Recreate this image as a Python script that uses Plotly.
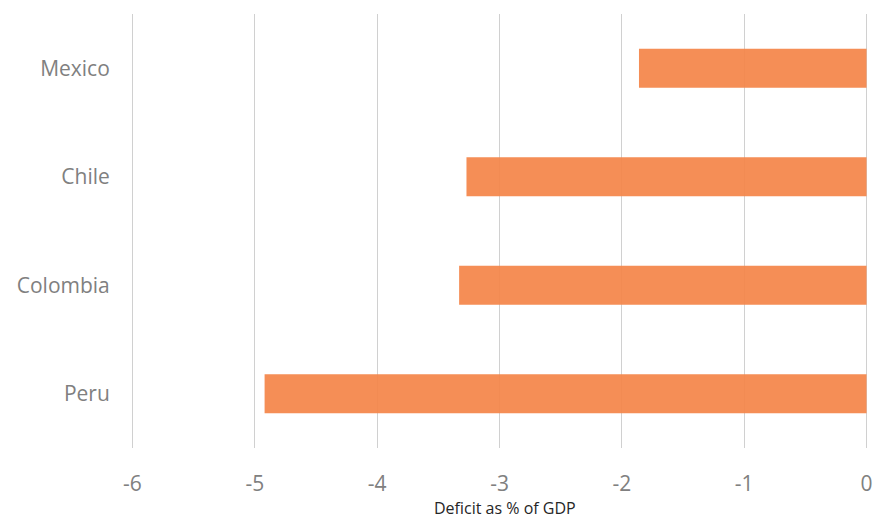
import plotly.graph_objects as go

countries = ["Peru", "Colombia", "Chile", "Mexico"]
deficits = [-4.92, -3.33, -3.27, -1.86]
tick_vals = [-6, -5, -4, -3, -2, -1, 0]

fig = go.Figure(go.Bar(
    x=deficits, y=countries, orientation="h",
    marker=dict(color="rgba(244,132,72,0.92)", line=dict(width=0)),
    width=0.36,
))

fig.update_layout(
    width=885, height=520,
    margin=dict(l=130, r=13, t=14, b=72),
    plot_bgcolor="white", paper_bgcolor="white",
    showlegend=False,
    font=dict(family="Open Sans, Lato, sans-serif"),
    xaxis=dict(
        range=[-6.02, 0.02], tickvals=tick_vals, ticktext=[str(v) for v in tick_vals],
        showgrid=True, gridcolor="#d0d0d0", gridwidth=1,
        zeroline=False, showline=False,
        tickfont=dict(size=21, color="#808080"),
        ticks="outside", ticklen=17, tickcolor="rgba(0,0,0,0)",
    ),
    yaxis=dict(
        categoryorder="array", categoryarray=countries,
        showgrid=False, zeroline=False, showline=False,
        tickfont=dict(size=21, color="#808080"),
        ticks="outside", ticklen=15, tickcolor="rgba(0,0,0,0)",
    ),
    annotations=[dict(
        text="Deficit as % of GDP", xref="paper", yref="paper",
        x=0.5, y=0, xanchor="center", yanchor="middle", yshift=-60, xshift=5,
        showarrow=False, font=dict(size=16, color="#262626"),
    )],
)

fig.write_html("out.html")
